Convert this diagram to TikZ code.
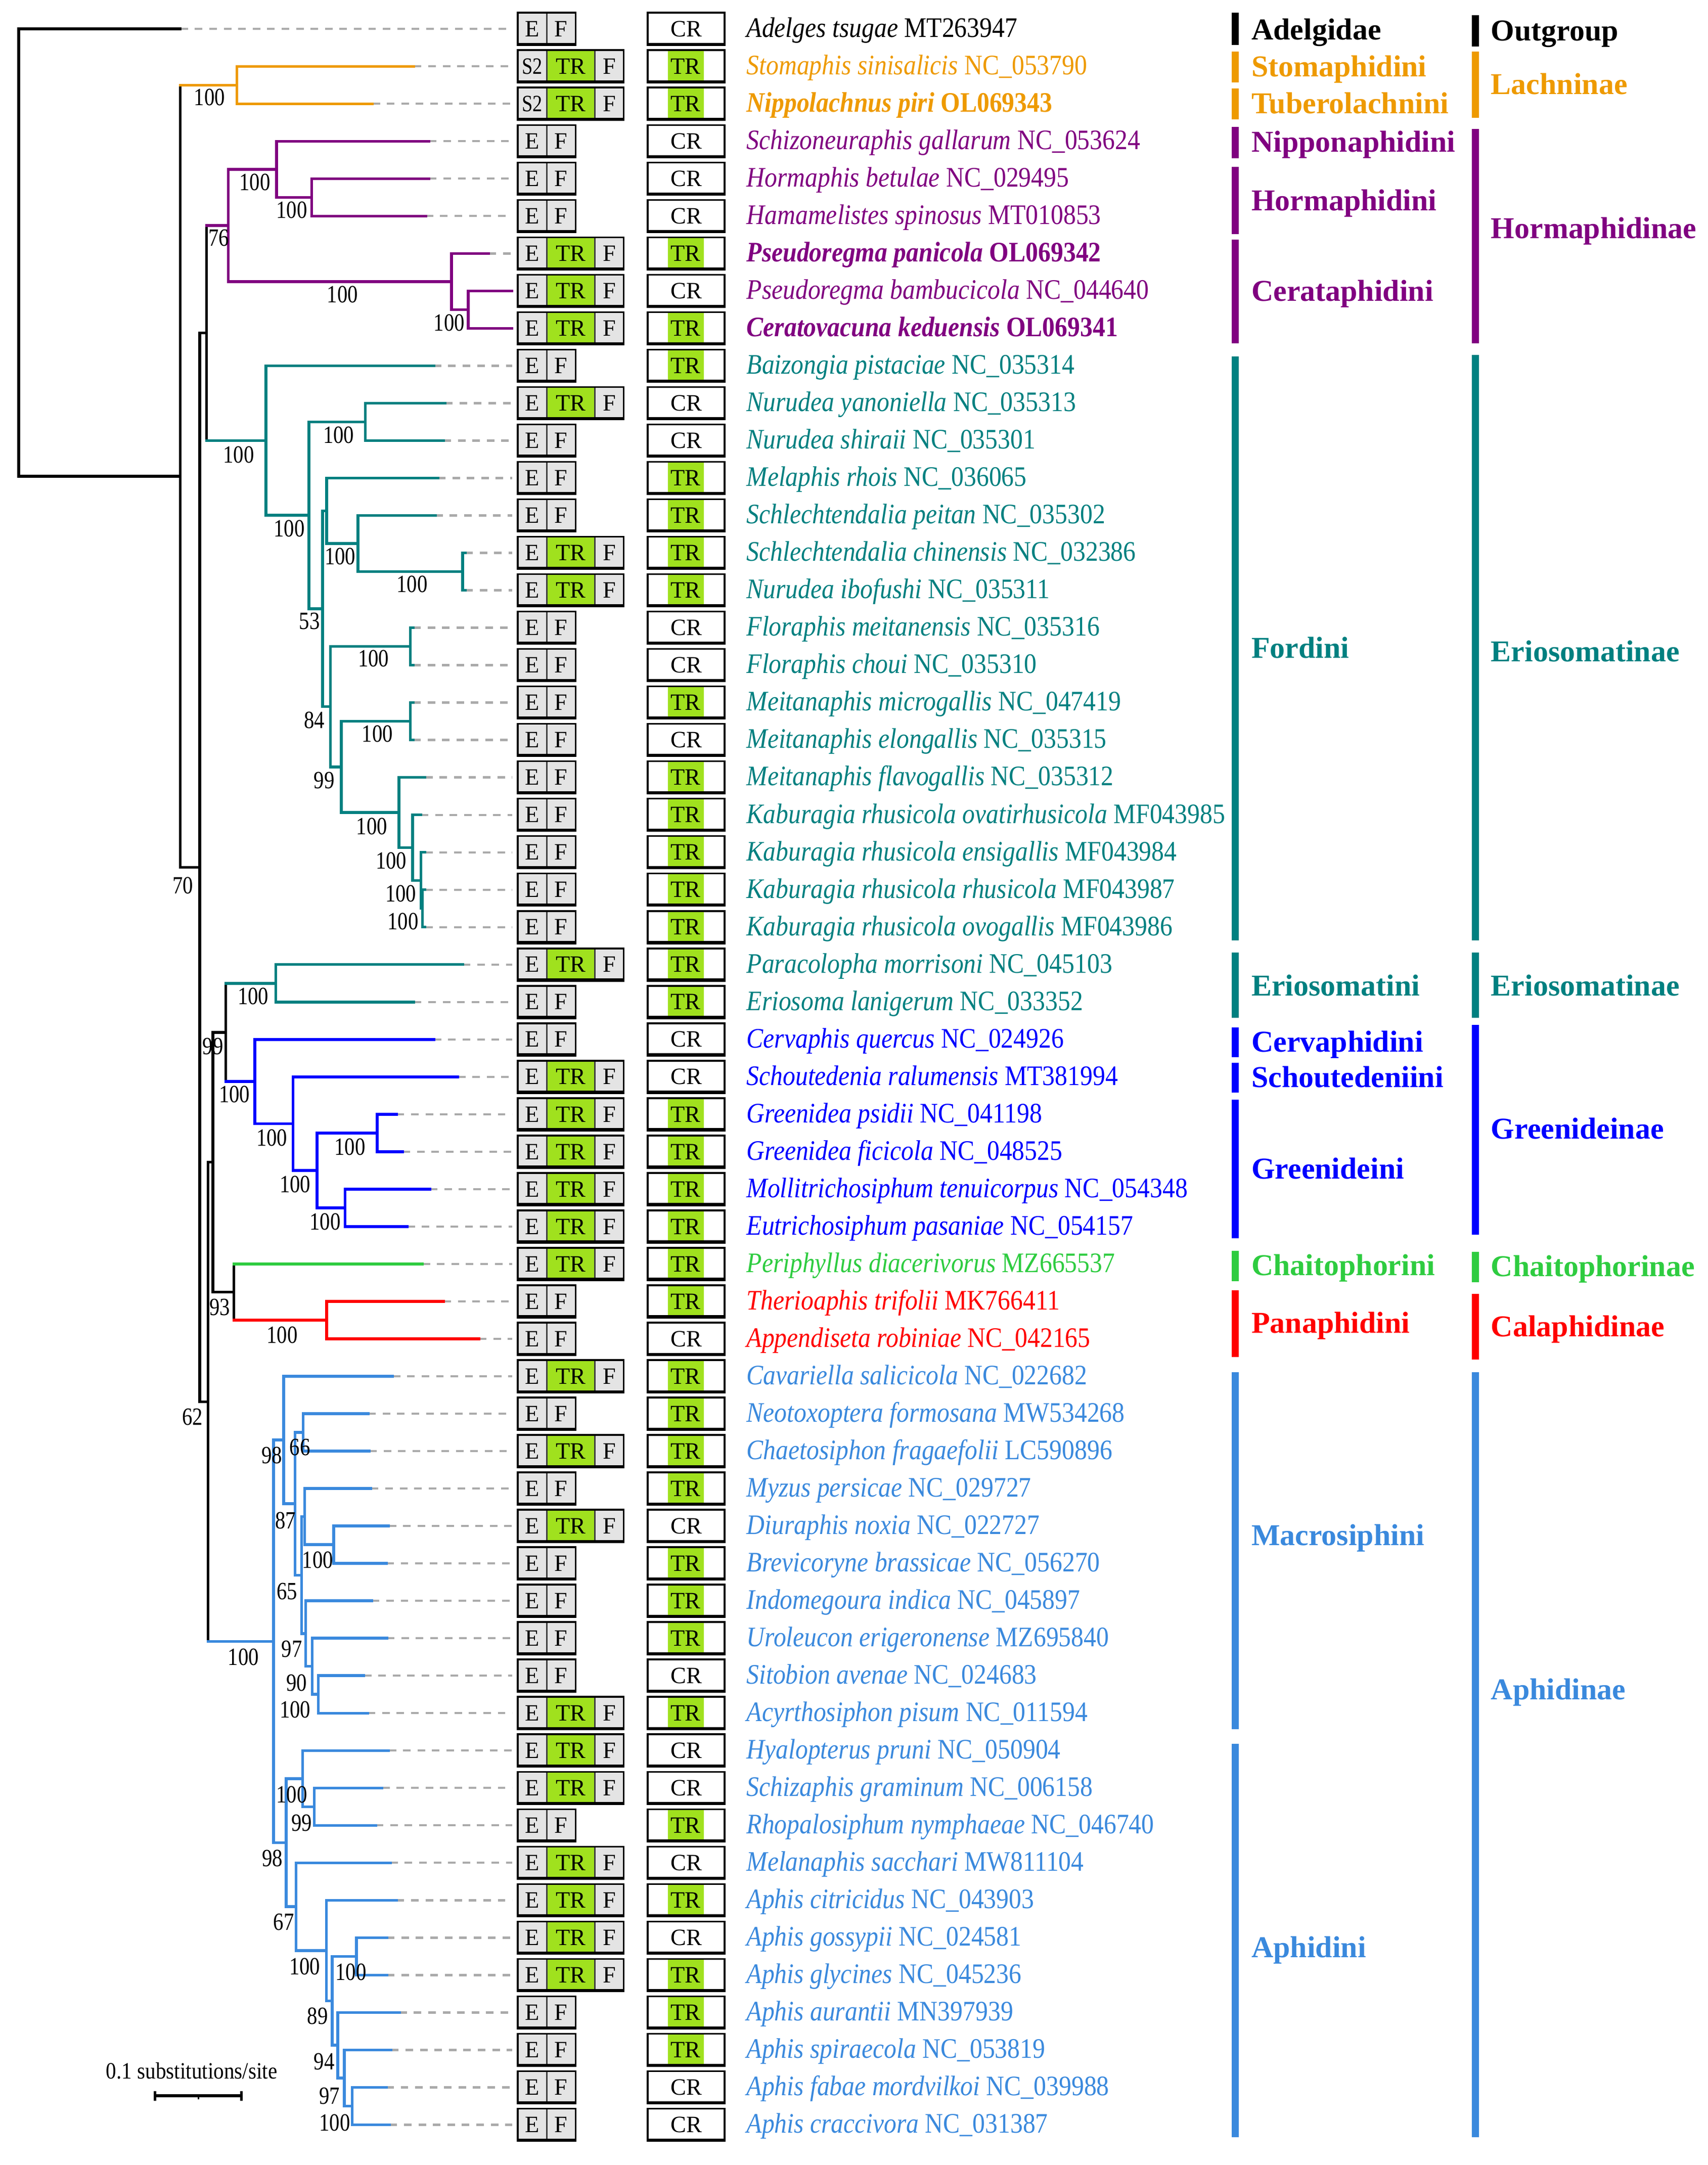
\documentclass[tikz,border=0pt]{standalone}
\usepackage{fontspec}
\setmainfont{Liberation Serif}
\newfontfamily\txfont[FakeStretch=0.89]{Liberation Serif}
\newfontfamily\bsfont[FakeStretch=0.83]{Liberation Serif}
\definecolor{corange}{RGB}{238,154,0}
\definecolor{cpurple}{RGB}{128,0,128}
\definecolor{cteal}{RGB}{0,128,128}
\definecolor{cblue}{RGB}{0,0,255}
\definecolor{cgreen}{RGB}{46,204,64}
\definecolor{cred}{RGB}{255,0,0}
\definecolor{clblue}{RGB}{58,137,221}
\definecolor{cellgray}{RGB}{228,228,228}
\definecolor{cellgreen}{RGB}{160,225,30}
\definecolor{leadgray}{RGB}{170,170,170}
\tikzset{
 br/.style={line width=2pt, line cap=rect},
 lead/.style={draw=leadgray, line width=1.6pt, dash pattern=on 5.5pt off 5pt},
 boxline/.style={draw=black, line width=1.3pt},
 divline/.style={draw=black!75, line width=1.2pt},
 boxtxt/.style={inner sep=0pt, font=\fontsize{17}{18}\selectfont},
 taxon/.style={inner sep=0pt, anchor=base west, font=\txfont\fontsize{20.5}{22}\selectfont},
 bs/.style={inner sep=0pt, font=\bsfont\fontsize{18}{20}\selectfont},
 grp/.style={inner sep=0pt, anchor=base west, font=\fontsize{22}{24}\selectfont\bfseries},
 gbar/.style={line width=5pt},
}
% boxes (use \yy)
\newcommand{\BoxEF}{%
 \fill[cellgray] (376,\yy-11.75) rectangle (418,\yy+11.75);
 \draw[divline] (397,\yy-11.75) -- (397,\yy+11.75);
 \draw[boxline] (376,\yy-11.75) rectangle (418,\yy+11.75);
 \draw[line width=2.2pt] (376,\yy+11.2) -- (418,\yy+11.2);
 \node[boxtxt] at (386.5,\yy) {E};
 \node[boxtxt] at (407.5,\yy) {F};}
\newcommand{\BoxETRF}{%
 \fill[cellgray] (376,\yy-11.75) rectangle (453,\yy+11.75);
 \fill[cellgreen] (397,\yy-11.75) rectangle (432,\yy+11.75);
 \draw[divline] (397,\yy-11.75) -- (397,\yy+11.75);
 \draw[divline] (432,\yy-11.75) -- (432,\yy+11.75);
 \draw[boxline] (376,\yy-11.75) rectangle (453,\yy+11.75);
 \draw[line width=2.2pt] (376,\yy+11.2) -- (453,\yy+11.2);
 \node[boxtxt] at (386.5,\yy) {E};
 \node[boxtxt] at (414.5,\yy) {TR};
 \node[boxtxt] at (442.5,\yy) {F};}
\newcommand{\BoxSTRF}{%
 \fill[cellgray] (376,\yy-11.75) rectangle (453,\yy+11.75);
 \fill[cellgreen] (397,\yy-11.75) rectangle (432,\yy+11.75);
 \draw[divline] (397,\yy-11.75) -- (397,\yy+11.75);
 \draw[divline] (432,\yy-11.75) -- (432,\yy+11.75);
 \draw[boxline] (376,\yy-11.75) rectangle (453,\yy+11.75);
 \draw[line width=2.2pt] (376,\yy+11.2) -- (453,\yy+11.2);
 \node[boxtxt,font=\bsfont\fontsize{17}{18}\selectfont] at (386.5,\yy) {S2};
 \node[boxtxt] at (414.5,\yy) {TR};
 \node[boxtxt] at (442.5,\yy) {F};}
\newcommand{\CrCR}{%
 \fill[white] (470.4,\yy-11.75) rectangle (526.2,\yy+11.75);
 \draw[boxline] (470.4,\yy-11.75) rectangle (526.2,\yy+11.75);
 \draw[line width=2.2pt] (470.4,\yy+11.2) -- (526.2,\yy+11.2);
 \node[boxtxt] at (498.3,\yy) {CR};}
\newcommand{\CrTR}{%
 \fill[white] (470.4,\yy-11.75) rectangle (526.2,\yy+11.75);
 \fill[cellgreen] (485,\yy-11.75) rectangle (511,\yy+11.75);
 \draw[boxline] (470.4,\yy-11.75) rectangle (526.2,\yy+11.75);
 \draw[line width=2.2pt] (470.4,\yy+11.2) -- (526.2,\yy+11.2);
 \node[boxtxt] at (498,\yy) {TR};}
% one taxon row
\newcommand{\Row}[8]{%
 \pgfmathsetmacro{\yy}{21+27.18*(#1-1)}%
 \coordinate (t#1) at (#2,\yy);
 \coordinate (d#1) at (372,\yy);
 \draw[lead] (t#1) -- (d#1);
 \csname Box#6\endcsname
 \csname Cr#7\endcsname
 \node[taxon,text=#3] (n#1) at (542,\yy+6) {#8\textit{#4} #5};
}
\newcommand{\ed}[3]{\draw[br,#1] (#2) |- (#3);}
\newcommand{\edb}[3]{\draw[br,black] (#2) -- (#2 |- #3); \draw[br,#1] (#2 |- #3) -- (#3);}
\newcommand{\Gbar}[5]{\coordinate (#1a) at (#3,#4); \coordinate (#1b) at (#3,#5); \draw[gbar,#2] (#1a) -- (#1b);}

\begin{document}
\begin{tikzpicture}[x=1pt,y=-1pt]
\fill[white] (0,0) rectangle (1240,1572.3);
\useasboundingbox (0,0) rectangle (1240,1572.3);

\Row{1}{131}{black}{Adelges tsugae}{MT263947}{EF}{CR}{}
\Row{2}{300.5}{corange}{Stomaphis sinisalicis}{NC\_053790}{STRF}{TR}{}
\Row{3}{270.5}{corange}{Nippolachnus piri}{OL069343}{STRF}{TR}{\bfseries}
\Row{4}{311.5}{cpurple}{Schizoneuraphis gallarum}{NC\_053624}{EF}{CR}{}
\Row{5}{311.5}{cpurple}{Hormaphis betulae}{NC\_029495}{EF}{CR}{}
\Row{6}{309.1}{cpurple}{Hamamelistes spinosus}{MT010853}{EF}{CR}{}
\Row{7}{354.8}{cpurple}{Pseudoregma panicola}{OL069342}{ETRF}{TR}{\bfseries}
\Row{8}{371.6}{cpurple}{Pseudoregma bambucicola}{NC\_044640}{ETRF}{CR}{}
\Row{9}{371.6}{cpurple}{Ceratovacuna keduensis}{OL069341}{ETRF}{TR}{\bfseries}
\Row{10}{315}{cteal}{Baizongia pistaciae}{NC\_035314}{EF}{TR}{}
\Row{11}{323.2}{cteal}{Nurudea yanoniella}{NC\_035313}{ETRF}{CR}{}
\Row{12}{322}{cteal}{Nurudea shiraii}{NC\_035301}{EF}{CR}{}
\Row{13}{318}{cteal}{Melaphis rhois}{NC\_036065}{EF}{TR}{}
\Row{14}{316.1}{cteal}{Schlechtendalia peitan}{NC\_035302}{EF}{TR}{}
\Row{15}{337.9}{cteal}{Schlechtendalia chinensis}{NC\_032386}{ETRF}{TR}{}
\Row{16}{337.9}{cteal}{Nurudea ibofushi}{NC\_035311}{ETRF}{TR}{}
\Row{17}{300}{cteal}{Floraphis meitanensis}{NC\_035316}{EF}{CR}{}
\Row{18}{300}{cteal}{Floraphis choui}{NC\_035310}{EF}{CR}{}
\Row{19}{300}{cteal}{Meitanaphis microgallis}{NC\_047419}{EF}{TR}{}
\Row{20}{300}{cteal}{Meitanaphis elongallis}{NC\_035315}{EF}{CR}{}
\Row{21}{308.7}{cteal}{Meitanaphis flavogallis}{NC\_035312}{EF}{TR}{}
\Row{22}{305.6}{cteal}{Kaburagia rhusicola ovatirhusicola}{MF043985}{EF}{TR}{}
\Row{23}{308.7}{cteal}{Kaburagia rhusicola ensigallis}{MF043984}{EF}{TR}{}
\Row{24}{308.7}{cteal}{Kaburagia rhusicola rhusicola}{MF043987}{EF}{TR}{}
\Row{25}{308.7}{cteal}{Kaburagia rhusicola ovogallis}{MF043986}{EF}{TR}{}
\Row{26}{336}{cteal}{Paracolopha morrisoni}{NC\_045103}{ETRF}{TR}{}
\Row{27}{300.5}{cteal}{Eriosoma lanigerum}{NC\_033352}{EF}{TR}{}
\Row{28}{315}{cblue}{Cervaphis quercus}{NC\_024926}{EF}{CR}{}
\Row{29}{332.5}{cblue}{Schoutedenia ralumensis}{MT381994}{ETRF}{CR}{}
\Row{30}{288}{cblue}{Greenidea psidii}{NC\_041198}{ETRF}{TR}{}
\Row{31}{292.3}{cblue}{Greenidea ficicola}{NC\_048525}{ETRF}{TR}{}
\Row{32}{312.2}{cblue}{Mollitrichosiphum tenuicorpus}{NC\_054348}{ETRF}{TR}{}
\Row{33}{295.8}{cblue}{Eutrichosiphum pasaniae}{NC\_054157}{ETRF}{TR}{}
\Row{34}{306.8}{cgreen}{Periphyllus diacerivorus}{MZ665537}{ETRF}{TR}{}
\Row{35}{322}{cred}{Therioaphis trifolii}{MK766411}{EF}{TR}{}
\Row{36}{347.7}{cred}{Appendiseta robiniae}{NC\_042165}{EF}{CR}{}
\Row{37}{285.2}{clblue}{Cavariella salicicola}{NC\_022682}{ETRF}{TR}{}
\Row{38}{267.4}{clblue}{Neotoxoptera formosana}{MW534268}{EF}{TR}{}
\Row{39}{268.1}{clblue}{Chaetosiphon fragaefolii}{LC590896}{ETRF}{TR}{}
\Row{40}{269.3}{clblue}{Myzus persicae}{NC\_029727}{EF}{TR}{}
\Row{41}{282.2}{clblue}{Diuraphis noxia}{NC\_022727}{ETRF}{CR}{}
\Row{42}{280.5}{clblue}{Brevicoryne brassicae}{NC\_056270}{EF}{TR}{}
\Row{43}{270}{clblue}{Indomegoura indica}{NC\_045897}{EF}{TR}{}
\Row{44}{281}{clblue}{Uroleucon erigeronense}{MZ695840}{EF}{TR}{}
\Row{45}{264.2}{clblue}{Sitobion avenae}{NC\_024683}{EF}{CR}{}
\Row{46}{267}{clblue}{Acyrthosiphon pisum}{NC\_011594}{ETRF}{TR}{}
\Row{47}{282.2}{clblue}{Hyalopterus pruni}{NC\_050904}{ETRF}{CR}{}
\Row{48}{277.5}{clblue}{Schizaphis graminum}{NC\_006158}{ETRF}{CR}{}
\Row{49}{272.8}{clblue}{Rhopalosiphum nymphaeae}{NC\_046740}{EF}{TR}{}
\Row{50}{283.4}{clblue}{Melanaphis sacchari}{MW811104}{ETRF}{CR}{}
\Row{51}{288}{clblue}{Aphis citricidus}{NC\_043903}{ETRF}{TR}{}
\Row{52}{281}{clblue}{Aphis gossypii}{NC\_024581}{ETRF}{CR}{}
\Row{53}{281}{clblue}{Aphis glycines}{NC\_045236}{ETRF}{TR}{}
\Row{54}{290}{clblue}{Aphis aurantii}{MN397939}{EF}{TR}{}
\Row{55}{284}{clblue}{Aphis spiraecola}{NC\_053819}{EF}{TR}{}
\Row{56}{280.5}{clblue}{Aphis fabae mordvilkoi}{NC\_039988}{EF}{CR}{}
\Row{57}{282.9}{clblue}{Aphis craccivora}{NC\_031387}{EF}{CR}{}

% internal nodes
\coordinate (R0) at (13.6,183.42);
\coordinate (N1) at (131,345.84);
\coordinate (L) at (172,61.77);
\coordinate (N2) at (145,629.91);
\coordinate (N3) at (149.9,241.81);
\coordinate (H) at (165.8,163.7);
\coordinate (H1) at (200.9,122.93);
\coordinate (H1b) at (226.4,143.31);
\coordinate (H2) at (327.9,204.47);
\coordinate (H2b) at (340,224.85);
\coordinate (F) at (193.2,319.93);
\coordinate (F1) at (224.3,374.23);
\coordinate (F2) at (265.3,306.39);
\coordinate (F3) at (234.2,442.08);
\coordinate (F4) at (237.2,370.94);
\coordinate (F5) at (260,394.73);
\coordinate (F6) at (336,415.11);
\coordinate (F7) at (240,513.21);
\coordinate (F8) at (297.9,469.47);
\coordinate (F9) at (247.8,556.96);
\coordinate (F10) at (297.9,523.83);
\coordinate (F11) at (289.7,590.08);
\coordinate (F12) at (299.7,615.56);
\coordinate (F13) at (305.6,639.35);
\coordinate (F14) at (306.8,659.73);
\coordinate (N4) at (151,1018.01);
\coordinate (N5) at (154.6,844.04);
\coordinate (N6) at (163.9,749.76);
\coordinate (E) at (200.2,714.09);
\coordinate (G) at (185,785.44);
\coordinate (G2) at (212.7,816.01);
\coordinate (G3) at (230.2,849.99);
\coordinate (G4) at (274,822.81);
\coordinate (G5) at (250.6,877.17);
\coordinate (N7) at (169.8,938.33);
\coordinate (C) at (237.2,958.71);
\coordinate (A) at (198.6,1191.98);
\coordinate (M) at (206,1045.78);
\coordinate (M1) at (214.3,1092.07);
\coordinate (M2) at (220.1,1040.25);
\coordinate (M3) at (219,1143.88);
\coordinate (M4) at (221.3,1101.41);
\coordinate (M5) at (242.4,1121.79);
\coordinate (M6) at (222,1186.34);
\coordinate (M7) at (226.7,1210.13);
\coordinate (M8) at (231.1,1230.51);
\coordinate (P) at (207.9,1338.18);
\coordinate (P1) at (219.7,1291.67);
\coordinate (P3) at (228.3,1312.05);
\coordinate (P2) at (215,1384.68);
\coordinate (P4) at (237,1416.53);
\coordinate (P5) at (241.2,1453.05);
\coordinate (P6) at (258.8,1420.77);
\coordinate (P7) at (245.2,1485.33);
\coordinate (P8) at (250.1,1509.11);
\coordinate (P9) at (255.7,1529.49);

% backbone
\ed{black}{R0}{t1}
\ed{black}{R0}{N1}
\edb{corange}{N1}{L}
\ed{black}{N1}{N2}
\ed{black}{N2}{N3}
\ed{black}{N2}{N4}
\edb{cpurple}{N3}{H}
\edb{cteal}{N3}{F}
\ed{black}{N4}{N5}
\edb{clblue}{N4}{A}
\ed{black}{N5}{N6}
\ed{black}{N5}{N7}
\edb{cteal}{N6}{E}
\edb{cblue}{N6}{G}
\edb{cgreen}{N7}{t34}
\edb{cred}{N7}{C}
% Lachninae
\ed{corange}{L}{t2}
\ed{corange}{L}{t3}
% Hormaphidinae
\ed{cpurple}{H}{H1}
\ed{cpurple}{H}{H2}
\ed{cpurple}{H1}{t4}
\ed{cpurple}{H1}{H1b}
\ed{cpurple}{H1b}{t5}
\ed{cpurple}{H1b}{t6}
\ed{cpurple}{H2}{t7}
\ed{cpurple}{H2}{H2b}
\ed{cpurple}{H2b}{t8}
\ed{cpurple}{H2b}{t9}
% Fordini
\ed{cteal}{F}{t10}
\ed{cteal}{F}{F1}
\ed{cteal}{F1}{F2}
\ed{cteal}{F1}{F3}
\ed{cteal}{F2}{t11}
\ed{cteal}{F2}{t12}
\ed{cteal}{F3}{F4}
\ed{cteal}{F3}{F7}
\ed{cteal}{F4}{t13}
\ed{cteal}{F4}{F5}
\ed{cteal}{F5}{t14}
\ed{cteal}{F5}{F6}
\ed{cteal}{F6}{t15}
\ed{cteal}{F6}{t16}
\ed{cteal}{F7}{F8}
\ed{cteal}{F7}{F9}
\ed{cteal}{F8}{t17}
\ed{cteal}{F8}{t18}
\ed{cteal}{F9}{F10}
\ed{cteal}{F9}{F11}
\ed{cteal}{F10}{t19}
\ed{cteal}{F10}{t20}
\ed{cteal}{F11}{t21}
\ed{cteal}{F11}{F12}
\ed{cteal}{F12}{t22}
\ed{cteal}{F12}{F13}
\ed{cteal}{F13}{t23}
\ed{cteal}{F13}{F14}
\ed{cteal}{F14}{t24}
\ed{cteal}{F14}{t25}
% Eriosomatini
\ed{cteal}{E}{t26}
\ed{cteal}{E}{t27}
% Greenideinae
\ed{cblue}{G}{t28}
\ed{cblue}{G}{G2}
\ed{cblue}{G2}{t29}
\ed{cblue}{G2}{G3}
\ed{cblue}{G3}{G4}
\ed{cblue}{G3}{G5}
\ed{cblue}{G4}{t30}
\ed{cblue}{G4}{t31}
\ed{cblue}{G5}{t32}
\ed{cblue}{G5}{t33}
% Calaphidinae
\ed{cred}{C}{t35}
\ed{cred}{C}{t36}
% Aphidinae
\ed{clblue}{A}{M}
\ed{clblue}{A}{P}
\ed{clblue}{M}{t37}
\ed{clblue}{M}{M1}
\ed{clblue}{M1}{M2}
\ed{clblue}{M1}{M3}
\ed{clblue}{M2}{t38}
\ed{clblue}{M2}{t39}
\ed{clblue}{M3}{M4}
\ed{clblue}{M3}{M6}
\ed{clblue}{M4}{t40}
\ed{clblue}{M4}{M5}
\ed{clblue}{M5}{t41}
\ed{clblue}{M5}{t42}
\ed{clblue}{M6}{t43}
\ed{clblue}{M6}{M7}
\ed{clblue}{M7}{t44}
\ed{clblue}{M7}{M8}
\ed{clblue}{M8}{t45}
\ed{clblue}{M8}{t46}
\ed{clblue}{P}{P1}
\ed{clblue}{P}{P2}
\ed{clblue}{P1}{t47}
\ed{clblue}{P1}{P3}
\ed{clblue}{P3}{t48}
\ed{clblue}{P3}{t49}
\ed{clblue}{P2}{t50}
\ed{clblue}{P2}{P4}
\ed{clblue}{P4}{t51}
\ed{clblue}{P4}{P5}
\ed{clblue}{P5}{P6}
\ed{clblue}{P5}{P7}
\ed{clblue}{P6}{t52}
\ed{clblue}{P6}{t53}
\ed{clblue}{P7}{t54}
\ed{clblue}{P7}{P8}
\ed{clblue}{P8}{t55}
\ed{clblue}{P8}{P9}
\ed{clblue}{P9}{t56}
\ed{clblue}{P9}{t57}

% bootstrap values
\node[bs] (bL) at (152.2,70.8) {100};
\node[bs] (bH) at (158.8,172.8) {76};
\node[bs] (bH1) at (185,132.3) {100};
\node[bs] (bH1b) at (211.9,152.6) {100};
\node[bs] (bH2) at (248.7,213.8) {100};
\node[bs] (bH2b) at (326.2,234.3) {100};
\node[bs] (bF) at (173.3,330.3) {100};
\node[bs] (bF1) at (210,383.7) {100};
\node[bs] (bF2) at (245.9,315.9) {100};
\node[bs] (bF3) at (224.8,451.2) {53};
\node[bs] (bF5) at (247,404) {100};
\node[bs] (bF6) at (299.3,424.2) {100};
\node[bs] (bF8) at (271.2,478.1) {100};
\node[bs] (bF7) at (228.3,523) {84};
\node[bs] (bF10) at (274,533.1) {100};
\node[bs] (bF9) at (235.4,566.8) {99};
\node[bs] (bF11) at (270,600) {100};
\node[bs] (bF12) at (284.1,625) {100};
\node[bs] (bF13) at (291.1,648.9) {100};
\node[bs] (bF14) at (292.7,669.3) {100};
\node[bs] (bN2) at (132.8,643) {70};
\node[bs] (bE) at (183.8,723.6) {100};
\node[bs] (bN6) at (154.6,760) {99};
\node[bs] (bG) at (170.2,794.9) {100};
\node[bs] (bG2) at (197.4,826.3) {100};
\node[bs] (bG4) at (254.1,832.8) {100};
\node[bs] (bG3) at (214.3,860) {100};
\node[bs] (bG5) at (236.1,887.3) {100};
\node[bs] (bN7) at (159.7,949.4) {93};
\node[bs] (bC) at (204.9,969.6) {100};
\node[bs] (bN4) at (139.8,1029.1) {62};
\node[bs] (bA) at (176.8,1203.6) {100};
\node[bs] (bM) at (197.4,1056.9) {98};
\node[bs] (bM2) at (217.8,1051) {66};
\node[bs] (bM1) at (207.3,1104.1) {87};
\node[bs] (bM5) at (230.7,1132.8) {100};
\node[bs] (bM3) at (208.4,1155.6) {65};
\node[bs] (bM6) at (211.9,1197.7) {97};
\node[bs] (bM7) at (215.5,1222.2) {90};
\node[bs] (bM8) at (214.3,1241.5) {100};
\node[bs] (bP1) at (211.9,1303.2) {100};
\node[bs] (bP3) at (219,1323.8) {99};
\node[bs] (bP) at (197.9,1349.6) {98};
\node[bs] (bP2) at (206,1396) {67};
\node[bs] (bP4) at (221.3,1428.1) {100};
\node[bs] (bP6) at (254.8,1432.3) {100};
\node[bs] (bP5) at (230.7,1464.2) {89};
\node[bs] (bP7) at (235.4,1497.3) {94};
\node[bs] (bP8) at (239.3,1522.1) {97};
\node[bs] (bP9) at (243.1,1541.7) {100};

% scale bar
\coordinate (sbL) at (112.5,1522.1);
\coordinate (sbR) at (175.3,1522.1);
\coordinate (sbM) at (144,1522.1);
\draw[line width=2.2pt] (sbL) -- (sbR);
\draw[line width=1.6pt] ([yshift=3.5pt]sbL) -- ([yshift=-3.5pt]sbL);
\draw[line width=1.6pt] ([yshift=3.5pt]sbR) -- ([yshift=-3.5pt]sbR);
\draw[line width=1.2pt] (sbM) -- ([yshift=-2.5pt]sbM);
\node[inner sep=0pt, anchor=base west, font=\txfont\fontsize{17}{18}\selectfont] (sbT) at (76.8,1509.7) {0.1 substitutions/site};

% tribe bars and labels
\Gbar{ta}{black}{897}{9.3}{32.8}
\Gbar{tb}{corange}{897}{37.4}{59.8}
\Gbar{tc}{corange}{897}{64.4}{86.6}
\Gbar{td}{cpurple}{897}{92.3}{114.8}
\Gbar{te}{cpurple}{897}{121.3}{170.1}
\Gbar{tf}{cpurple}{897}{174.2}{249.2}
\Gbar{tg}{cteal}{897}{258.9}{683.1}
\Gbar{th}{cteal}{897}{691.6}{739.2}
\Gbar{ti}{cblue}{897}{746.1}{767.8}
\Gbar{tj}{cblue}{897}{771.8}{793.6}
\Gbar{tk}{cblue}{897}{798.7}{899.4}
\Gbar{tl}{cgreen}{897}{908.3}{930.3}
\Gbar{tm}{cred}{897}{936.9}{985.4}
\Gbar{tn}{clblue}{897}{996.7}{1255.9}
\Gbar{to}{clblue}{897}{1266.5}{1552}
\node[grp,text=black] (Ta) at (908.7,28.7) {Adelgidae};
\node[grp,text=corange] (Tb) at (908.7,55.6) {Stomaphidini};
\node[grp,text=corange] (Tc) at (908.7,82.4) {Tuberolachnini};
\node[grp,text=cpurple] (Td) at (908.7,110.3) {Nipponaphidini};
\node[grp,text=cpurple] (Te) at (908.7,152.8) {Hormaphidini};
\node[grp,text=cpurple] (Tf) at (908.7,218.7) {Cerataphidini};
\node[grp,text=cteal] (Tg) at (908.7,477.8) {Fordini};
\node[grp,text=cteal] (Th) at (908.7,723) {Eriosomatini};
\node[grp,text=cblue] (Ti) at (908.7,764.1) {Cervaphidini};
\node[grp,text=cblue] (Tj) at (908.7,789.8) {Schoutedeniini};
\node[grp,text=cblue] (Tk) at (908.7,856) {Greenideini};
\node[grp,text=cgreen] (Tl) at (908.7,926.3) {Chaitophorini};
\node[grp,text=cred] (Tm) at (908.7,968) {Panaphidini};
\node[grp,text=clblue] (Tn) at (908.7,1122.3) {Macrosiphini};
\node[grp,text=clblue] (To) at (908.7,1421.5) {Aphidini};

% subfamily bars and labels
\Gbar{sa}{black}{1071.4}{11.1}{33.9}
\Gbar{sb}{corange}{1071.4}{37.4}{85.5}
\Gbar{sc}{cpurple}{1071.4}{93.8}{249.2}
\Gbar{sd}{cteal}{1071.4}{257.9}{683.1}
\Gbar{se}{cteal}{1071.4}{691.6}{739.2}
\Gbar{sf}{cblue}{1071.4}{744.2}{896.6}
\Gbar{sg}{cgreen}{1071.4}{909.3}{931.3}
\Gbar{sh}{cred}{1071.4}{939.7}{987.5}
\Gbar{si}{clblue}{1071.4}{996.7}{1552}
\node[grp,text=black] (Sa) at (1082.6,29.5) {Outgroup};
\node[grp,text=corange] (Sb) at (1082.6,68.4) {Lachninae};
\node[grp,text=cpurple] (Sc) at (1082.6,173.2) {Hormaphidinae};
\node[grp,text=cteal] (Sd) at (1082.6,480.5) {Eriosomatinae};
\node[grp,text=cteal] (Se) at (1082.6,723) {Eriosomatinae};
\node[grp,text=cblue] (Sf) at (1082.6,827) {Greenideinae};
\node[grp,text=cgreen] (Sg) at (1082.6,927) {Chaitophorinae};
\node[grp,text=cred] (Sh) at (1082.6,970.7) {Calaphidinae};
\node[grp,text=clblue] (Si) at (1082.6,1234.3) {Aphidinae};
\end{tikzpicture}
\end{document}
